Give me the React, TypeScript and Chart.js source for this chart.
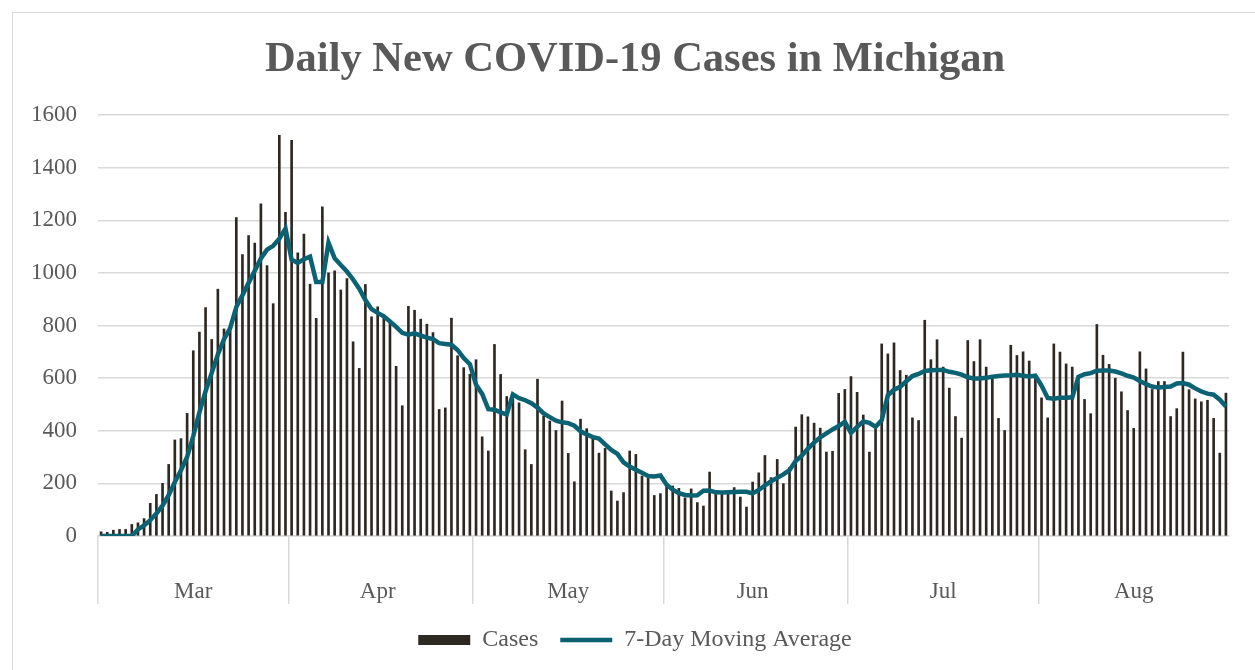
import React, { useEffect, useRef } from 'react';
import { Chart, registerables } from 'chart.js';

Chart.register(...registerables);

const monthNames = ['Mar', 'Apr', 'May', 'Jun', 'Jul', 'Aug'];
const monthDays = [31, 30, 31, 30, 31, 31];

const cases = [
  16, 14, 22, 25, 25, 44, 50, 66, 124, 158, 200, 272, 365, 370, 466, 704, 775,
  868, 747, 938, 787, 785, 1210, 1070, 1142, 1113, 1262, 1028, 883, 1523, 1230, 1504, 1076,
  1147, 957, 827, 1251, 1000, 1008, 935, 978, 738, 637, 956, 833, 871, 840, 810, 645,
  495, 873, 858, 824, 805, 773, 481, 487, 828, 685, 640, 615, 670, 377, 323, 728,
  614, 530, 520, 506, 328, 272, 596, 456, 437, 401, 513, 314, 206, 444, 408, 373, 315,
  333, 171, 133, 165, 323, 310, 228, 219, 154, 161, 190, 190, 181, 145, 179, 127,
  114, 243, 158, 158, 161, 184, 148, 110, 205, 240, 306, 222, 291, 199, 260, 414,
  461, 453, 429, 410, 319, 322, 542, 557, 606, 546, 460, 319, 420, 730, 692, 734,
  629, 611, 449, 439, 820, 670, 746, 642, 562, 454, 372, 743, 663, 746, 642, 600, 447,
  401, 725, 686, 700, 665, 600, 525, 449, 730, 699, 654, 642, 590, 519, 465, 804,
  687, 652, 600, 548, 477, 409, 700, 635, 557, 587, 587, 454, 484, 699, 556, 521, 510, 516, 447, 315, 543,
];

const movingAvg = [
  0, 0, 0, 0, 0, 0,
  25, 40, 60, 85, 115, 155, 205, 250, 300, 380, 470,
  550, 620, 690, 748, 790, 870, 915, 962, 1008, 1055, 1088, 1103, 1130, 1168, 1050, 1038,
  1052, 1062, 965, 965, 1115, 1055, 1030, 1005, 975, 940, 897, 862, 848, 835, 815, 795,
  772, 765, 770, 762, 754, 748, 733, 730, 727, 707, 676, 653, 575, 540, 482, 480,
  470, 462, 538, 524, 516, 505, 488, 466, 452, 438, 432, 429, 419, 398, 386, 376, 370,
  348, 327, 312, 280, 264, 252, 240, 228, 226, 230, 195, 176, 163, 156, 154, 155,
  172, 173, 166, 165, 166, 167, 168, 168, 162, 175, 192, 208, 221, 234, 250, 285,
  305, 332, 355, 375, 390, 405, 418, 434, 392, 415, 435, 430, 415, 440, 535, 556,
  567, 588, 608, 616, 627, 630, 631, 631, 624, 620, 613, 603, 599, 599, 601, 605, 608,
  610, 611, 613, 609, 606, 609, 572, 525, 522, 525, 525, 527, 605, 615, 619, 628,
  629, 629, 625, 618, 609, 602, 589, 577, 568, 564, 566, 568, 580, 581, 575, 561, 549, 541, 537, 518, 492,
];

const yMin = 0;
const yMax = 1600;
const yStep = 200;

const TEXT = '#595959';
const GRID = '#D9D9D9';
const BAR = '#2E2822';
const LINE = '#0B6272';
const SERIF = "'Liberation Serif', 'Times New Roman', serif";

// one category per day, labelled by month
const dayLabels: string[] = [];
const monthStartIdx: number[] = [];
const monthLabelIdx: number[] = [];
{
  let acc = 0;
  monthNames.forEach((m, mi) => {
    monthStartIdx.push(acc);
    monthLabelIdx.push(acc + Math.floor((monthDays[mi] - 1) / 2));
    for (let d = 1; d <= monthDays[mi]; d++) dayLabels.push(`${m} ${d}`);
    acc += monthDays[mi];
  });
  monthStartIdx.push(acc);
}

export default function App() {
  const ref = useRef<HTMLCanvasElement | null>(null);

  useEffect(() => {
    if (!ref.current) return;
    const chart = new Chart(ref.current, {
      type: 'bar',
      data: {
        labels: dayLabels,
        datasets: [
          {
            type: 'line',
            label: '7-Day Moving Average',
            data: movingAvg,
            borderColor: LINE,
            backgroundColor: LINE,
            borderWidth: 4.5,
            pointRadius: 0,
            tension: 0,
            fill: false,
            order: 0,
            yAxisID: 'y',
          } as any,
          {
            type: 'bar',
            label: 'Cases',
            data: cases,
            backgroundColor: BAR,
            barThickness: 2,
            order: 1,
            yAxisID: 'y',
          } as any,
        ],
      },
      options: {
        animation: false,
        responsive: true,
        maintainAspectRatio: false,
        layout: { padding: { left: 15, right: 0, top: 0, bottom: 8 } },
        scales: {
          x: {
            type: 'category',
            offset: true,
            afterFit: (s: any) => {
              s.height = 70;
            },
            grid: {
              offset: true,
              drawOnChartArea: false,
              drawTicks: true,
              tickLength: 68,
              lineWidth: 1.5,
              color: (ctx: any) =>
                monthStartIdx.includes(ctx.index) ? GRID : 'rgba(0,0,0,0)',
            },
            border: { display: true, color: GRID, width: 1.5 },
            ticks: {
              autoSkip: false,
              maxRotation: 0,
              minRotation: 0,
              padding: -26,
              color: TEXT,
              font: { family: SERIF, size: 23 },
              callback: (_v: any, i: number) => {
                const k = monthLabelIdx.indexOf(i);
                return k >= 0 ? monthNames[k] : ' ';
              },
            },
          },
          y: {
            position: 'left',
            min: yMin,
            max: yMax,
            afterFit: (s: any) => {
              s.width = 83;
            },
            ticks: {
              stepSize: yStep,
              padding: 21,
              color: TEXT,
              font: { family: SERIF, size: 23 },
              callback: (v: any) => String(v),
            },
            grid: { color: GRID, lineWidth: 1.5, drawTicks: false },
            border: { display: false },
          },
          yRight: {
            position: 'right',
            min: yMin,
            max: yMax,
            afterFit: (s: any) => {
              s.width = 26;
            },
            ticks: { display: false },
            grid: { display: false, drawTicks: false },
            border: { display: false },
          },
        },
        plugins: {
          tooltip: { enabled: false },
          title: {
            display: true,
            text: 'Daily New COVID-19 Cases in Michigan',
            color: TEXT,
            font: { family: SERIF, size: 42.5, weight: 'bold' },
            padding: { top: 35, bottom: 29 },
          },
          legend: {
            position: 'bottom',
            labels: {
              usePointStyle: true,
              pointStyleWidth: 52,
              boxHeight: 10,
              padding: 22,
              color: TEXT,
              font: { family: SERIF, size: 24 },
              generateLabels: () => [
                {
                  text: 'Cases',
                  fillStyle: BAR,
                  strokeStyle: BAR,
                  lineWidth: 0,
                  pointStyle: 'rect',
                  hidden: false,
                  datasetIndex: 1,
                  fontColor: TEXT,
                } as any,
                {
                  text: '7-Day Moving Average',
                  fillStyle: LINE,
                  strokeStyle: LINE,
                  lineWidth: 4.5,
                  pointStyle: 'line',
                  hidden: false,
                  datasetIndex: 0,
                  fontColor: TEXT,
                } as any,
              ],
            },
          },
        },
      } as any,
    });
    return () => chart.destroy();
  }, []);

  return (
    <div
      style={{
        position: 'fixed',
        left: 0,
        top: 0,
        width: 1255,
        height: 670,
        overflow: 'hidden',
        background: '#ffffff',
      }}
    >
      <div
        style={{
          position: 'absolute',
          left: 12,
          top: 12,
          width: 1300,
          height: 700,
          border: `1px solid ${GRID}`,
          boxSizing: 'border-box',
        }}
      />
      <div style={{ position: 'absolute', left: 0, top: 0, width: 1255, height: 670 }}>
        <canvas ref={ref} />
      </div>
    </div>
  );
}
